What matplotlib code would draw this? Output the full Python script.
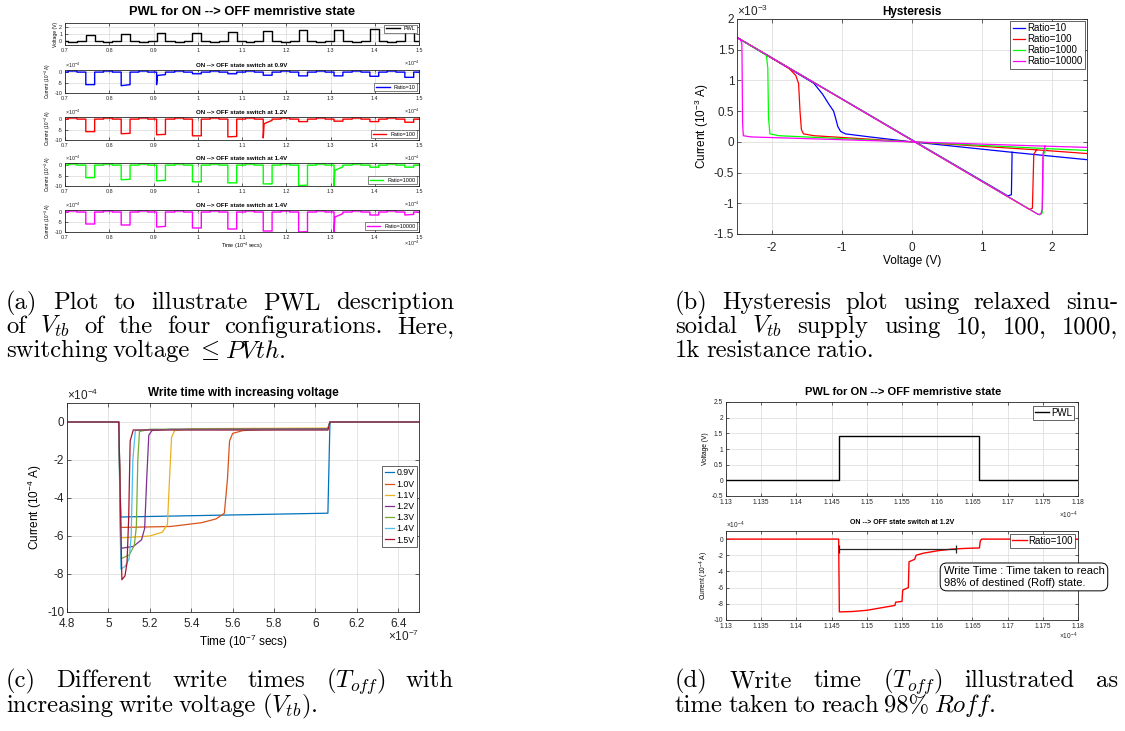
import numpy as np
import matplotlib
matplotlib.use("Agg")
import matplotlib.pyplot as plt

plt.rcParams['font.family'] = ['Liberation Sans', 'DejaVu Sans']
plt.rcParams['mathtext.fontset'] = 'custom'
plt.rcParams['mathtext.rm'] = 'Liberation Sans'
plt.rcParams['mathtext.it'] = 'Liberation Sans:italic'
plt.rcParams['mathtext.bf'] = 'Liberation Sans:bold'
plt.rcParams['axes.unicode_minus'] = False

W, H = 1125, 731
fig = plt.figure(figsize=(W / 100, H / 100), dpi=100)

AXC = '#262626'
GRIDC = '#d9d9d9'

# ---------------- data: panel (a) ----------------
pwl_pulse_starts = [0.747, 0.827, 0.907, 0.988, 1.068, 1.148, 1.228, 1.308, 1.389, 1.468]
pwl_pulse_volts = [0.9, 1.0, 1.1, 1.2, 1.3, 1.4, 1.5, 1.6, 1.7, 1.8]
pwl_read_volt = -0.08
pwl_read_current = 0.5
a_titles = ['ON --> OFF state switch at 0.9V', 'ON --> OFF state switch at 1.2V',
            'ON --> OFF state switch at 1.4V', 'ON --> OFF state switch at 1.4V']
a_labels = ['Ratio=10', 'Ratio=100', 'Ratio=1000', 'Ratio=10000']
a_colors = ['#0000ff', '#ff0000', '#00ff00', '#ff00ff']
a_i_start = [
    [-6.0, -6.5, -6.0, -0.8, -0.8, -1.5, -1.8, -1.8, -2.0, -2.5],
    [-6.0, -7.0, -7.5, -8.0, -8.5, -9.0, -1.2, -1.0, -1.2, -1.5],
    [-6.0, -7.0, -7.5, -8.0, -8.5, -9.0, -9.8, -10.0, -1.0, -1.0],
    [-6.0, -6.5, -7.5, -8.0, -8.5, -9.5, -10.0, -10.0, -1.5, -1.5],
]
a_i_end = [
    [-6.0, -6.0, -1.2, -0.8, -0.8, -1.5, -1.8, -1.8, -2.0, -2.5],
    [-6.0, -6.8, -7.3, -8.0, -8.3, -0.6, -1.2, -1.0, -1.2, -1.5],
    [-6.0, -6.8, -7.3, -8.0, -8.5, -9.0, -9.6, -0.8, -1.0, -1.0],
    [-6.0, -6.5, -7.2, -8.0, -8.5, -9.5, -9.8, -0.8, -1.5, -1.2],
]
a_switch_idx = [2, 5, 7, 7]
a_switch_knee = [-1.6, -2.2, -2.5, -2.5]
pulse_width = 0.02

# ---------------- data: panel (b) ----------------
hyst_labels = ['Ratio=10', 'Ratio=100', 'Ratio=1000', 'Ratio=10000']
hyst_colors = ['#0000ff', '#ff0000', '#00ff00', '#ff00ff']
hyst_v = [
    [2.5, 1.43, 0.0, -0.6, -0.95, -1.02, -1.06, -1.09, -1.12, -1.18, -1.28, -1.40, -1.47, -2.5, 1.37, 1.42, 1.43],
    [2.5, 1.78, 0.0, -1.4, -1.55, -1.58, -1.60, -1.62, -1.66, -1.76, -2.5, 1.68, 1.72, 1.74, 1.78],
    [2.5, 1.92, 0.0, -1.9, -2.03, -2.05, -2.06, -2.08, -2.5, 1.82, 1.86, 1.88, 1.92],
    [2.5, 1.90, 0.0, -2.3, -2.41, -2.42, -2.43, -2.45, -2.5, 1.80, 1.84, 1.86, 1.87, 1.90],
]
hyst_i = [
    [-0.29, -0.17, 0.0, 0.08, 0.13, 0.17, 0.25, 0.38, 0.50, 0.60, 0.78, 0.95, 1.00, 1.70, -0.88, -0.86, -0.17],
    [-0.19, -0.13, 0.0, 0.10, 0.13, 0.20, 0.50, 0.95, 1.08, 1.20, 1.70, -1.10, -1.08, -0.20, -0.13],
    [-0.14, -0.11, 0.0, 0.10, 0.13, 0.40, 1.20, 1.41, 1.70, -1.19, -1.16, -0.20, -0.11],
    [-0.09, -0.07, 0.0, 0.08, 0.10, 0.30, 1.60, 1.66, 1.70, -1.18, -1.175, -1.10, -0.20, -0.07],
]

# ---------------- data: panel (c) ----------------
wt_labels = ['0.9V', '1.0V', '1.1V', '1.2V', '1.3V', '1.4V', '1.5V']
wt_colors = ['#0072BD', '#D95319', '#EDB120', '#7E2F8E', '#77AC30', '#4DBEEE', '#A2142F']
wt_t = [
    [4.8, 5.05, 5.06, 6.06, 6.07, 6.5],
    [4.8, 5.05, 5.06, 5.3, 5.45, 5.52, 5.56, 5.575, 5.585, 5.6, 5.65, 5.75, 6.06, 6.07, 6.5],
    [4.8, 5.05, 5.06, 5.2, 5.26, 5.285, 5.295, 5.305, 5.32, 5.4, 6.06, 6.07, 6.5],
    [4.8, 5.05, 5.06, 5.12, 5.16, 5.175, 5.185, 5.195, 5.21, 5.3, 6.06, 6.07, 6.5],
    [4.8, 5.05, 5.06, 5.10, 5.125, 5.135, 5.142, 5.15, 5.2, 6.06, 6.07, 6.5],
    [4.8, 5.05, 5.06, 5.08, 5.10, 5.11, 5.118, 5.13, 5.2, 6.06, 6.07, 6.5],
    [4.8, 5.05, 5.065, 5.08, 5.09, 5.098, 5.105, 5.12, 5.2, 6.06, 6.07, 6.5],
]
wt_i = [
    [0, 0, -5.0, -4.8, 0, 0],
    [0, 0, -5.55, -5.5, -5.3, -5.1, -4.8, -3.0, -1.0, -0.6, -0.45, -0.4, -0.35, 0, 0],
    [0, 0, -6.1, -6.0, -5.8, -5.4, -3.0, -0.8, -0.45, -0.35, -0.32, 0, 0],
    [0, 0, -6.65, -6.55, -6.2, -5.6, -3.0, -0.7, -0.45, -0.38, -0.35, 0, 0],
    [0, 0, -7.2, -7.0, -6.5, -5.5, -2.0, -0.5, -0.38, -0.38, 0, 0],
    [0, 0, -7.75, -7.6, -7.2, -6.0, -2.0, -0.45, -0.4, -0.4, 0, 0],
    [0, 0, -8.3, -8.1, -7.4, -5.0, -1.0, -0.42, -0.42, -0.42, 0, 0],
]

# ---------------- data: panel (d) ----------------
d_pwl_t = [1.13, 1.146, 1.146, 1.166, 1.166, 1.18]
d_pwl_v = [0, 0, 1.4, 1.4, 0, 0]
d_cur_t = [1.13, 1.146, 1.1461, 1.148, 1.150, 1.152, 1.154, 1.1541, 1.155, 1.1551, 1.1559, 1.156,
           1.1568, 1.157, 1.158, 1.160, 1.162, 1.164, 1.166, 1.1661, 1.1663, 1.18]
d_cur_i = [0, 0, -9.0, -8.95, -8.8, -8.5, -8.2, -7.8, -7.7, -6.3, -6.0, -2.8,
           -2.5, -2.0, -1.75, -1.45, -1.25, -1.15, -1.1, -0.3, 0, 0]
write_time_start = 1.1461
write_time_end = 1.1627
write_time_level = -1.2


def ax_at(x0, y0, x1, y1):
    return fig.add_axes([x0 / W, 1 - y1 / H, (x1 - x0) / W, (y1 - y0) / H])


def style(ax, fs, tl=3, xpad=2):
    ax.tick_params(direction='in', labelsize=fs, colors=AXC, length=tl, width=0.5,
                   top=True, right=True, pad=2)
    ax.tick_params(axis='x', pad=xpad)
    ax.tick_params(labeltop=False, labelright=False)
    for s in ax.spines.values():
        s.set_color(AXC)
        s.set_linewidth(0.6)
    ax.grid(True, color=GRIDC, linewidth=0.5)
    ax.set_axisbelow(True)


def fmt(v):
    return ('%.3f' % v).rstrip('0').rstrip('.')


def offset_text(ax, x, y, exp, fs, ha='left', va='bottom'):
    ax.text(x, y, r'$\times10^{%d}$' % exp, transform=ax.transAxes, fontsize=fs,
            color=AXC, ha=ha, va=va)


# ================= panel (a) =================
fig.text(242 / W, 1 - 12 / H, 'PWL for ON --> OFF memristive state', ha='center', va='center',
         fontsize=9.3, fontweight='bold')

a_boxes = [(23, 45), (70, 93), (117, 140), (163, 186), (210, 232)]
xt_a = [0.7, 0.8, 0.9, 1.0, 1.1, 1.2, 1.3, 1.4, 1.5]
AFS = 3.9

tv, vv = [0.7], [0.0]
for s, h in zip(pwl_pulse_starts, pwl_pulse_volts):
    rs = s - 0.04
    tv += [rs, rs, rs + pulse_width, rs + pulse_width, s, s, s + pulse_width, s + pulse_width]
    vv += [0.0, pwl_read_volt, pwl_read_volt, 0.0, 0.0, h, h, 0.0]
tv += [1.5]
vv += [0.0]

ax = ax_at(65, a_boxes[0][0], 419, a_boxes[0][1])
ax.plot(tv, vv, color='black', lw=1.0, label='PWL')
ax.set_xlim(0.7, 1.5)
ax.set_ylim(-0.5, 2.5)
ax.set_yticks([0, 1, 2])
ax.set_xticks(xt_a)
ax.set_xticklabels([fmt(v) for v in xt_a])
style(ax, AFS, tl=2)
ax.set_ylabel('Voltage (V)', fontsize=3.6, labelpad=1)
ax.legend(loc='upper right', fontsize=AFS, handlelength=2.5, borderpad=0.3, fancybox=False,
          edgecolor=AXC, framealpha=1, borderaxespad=0.3).get_frame().set_linewidth(0.4)
offset_text(ax, 1.0, -0.6, -4, AFS, ha='right', va='top')

for k in range(4):
    tc, ic = [0.7], [0.0]
    for j, s in enumerate(pwl_pulse_starts):
        rs = s - 0.04
        tc += [rs, rs, rs + pulse_width, rs + pulse_width, s]
        ic += [0.0, pwl_read_current, pwl_read_current, 0.0, 0.0]
        if j == a_switch_idx[k]:
            tc += [s, s + 0.002, s + pulse_width, s + pulse_width]
            ic += [a_i_start[k][j], a_switch_knee[k], a_i_end[k][j], 0.0]
        else:
            tc += [s, s + pulse_width, s + pulse_width]
            ic += [a_i_start[k][j], a_i_end[k][j], 0.0]
    tc += [1.5]
    ic += [0.0]
    y0, y1 = a_boxes[k + 1]
    ax = ax_at(65, y0, 419, y1)
    ax.plot(tc, ic, color=a_colors[k], lw=1.0, label=a_labels[k])
    ax.set_xlim(0.7, 1.5)
    ax.set_ylim(-10, 1)
    ax.set_yticks([-10, -5, 0])
    ax.set_xticks(xt_a)
    ax.set_xticklabels([fmt(v) for v in xt_a])
    style(ax, AFS, tl=2)
    ax.set_ylabel(r'Current (10$^{-4}$ A)', fontsize=3.4, labelpad=1)
    ax.set_title(a_titles[k], fontsize=4.4, fontweight='bold', pad=2)
    ax.legend(loc='lower right', fontsize=AFS, handlelength=2.5, borderpad=0.3, fancybox=False,
              edgecolor=AXC, framealpha=1, borderaxespad=0.3).get_frame().set_linewidth(0.4)
    offset_text(ax, 0.0, 1.0, -4, AFS, ha='left', va='bottom')
    if k < 3:
        offset_text(ax, 1.0, -0.6, -4, AFS, ha='right', va='top')
    else:
        offset_text(ax, 1.0, -0.3, -4, AFS, ha='right', va='top')
        ax.set_xlabel(r'Time (10$^{-4}$ secs)', fontsize=AFS, labelpad=1)

# ================= panel (b) =================
ax = ax_at(737, 19, 1087, 234)
for v, i, c, l in zip(hyst_v, hyst_i, hyst_colors, hyst_labels):
    ax.plot(v, i, color=c, lw=0.9, label=l)
ax.set_xlim(-2.5, 2.5)
ax.set_ylim(-1.5, 2)
ax.set_xticks([-2, -1, 0, 1, 2])
yt_b = [-1.5, -1, -0.5, 0, 0.5, 1, 1.5, 2]
ax.set_yticks(yt_b)
ax.set_yticklabels([fmt(v) for v in yt_b])
style(ax, 8.5, tl=3, xpad=5.5)
ax.set_title('Hysteresis', fontsize=8.5, fontweight='bold', pad=3)
ax.set_xlabel('Voltage (V)', fontsize=8.5, labelpad=1)
ax.set_ylabel(r'Current (10$^{-3}$ A)', fontsize=8.5, labelpad=2)
lg = ax.legend(loc='upper right', fontsize=7.0, handlelength=1.3, handletextpad=0.2,
               borderpad=0.25, labelspacing=0.1, fancybox=False, edgecolor=AXC, framealpha=1,
               borderaxespad=0.2)
lg.get_frame().set_linewidth(0.5)
offset_text(ax, 0.0, 1.0, -3, 8.5, ha='left', va='bottom')

# ================= panel (c) =================
ax = ax_at(67, 403, 419, 612)
for t, i, c, l in zip(wt_t, wt_i, wt_colors, wt_labels):
    ax.plot(t, i, color=c, lw=0.9, label=l)
ax.set_xlim(4.8, 6.5)
ax.set_ylim(-10, 1)
xt_c = [4.8, 5.0, 5.2, 5.4, 5.6, 5.8, 6.0, 6.2, 6.4]
ax.set_xticks(xt_c)
ax.set_xticklabels([fmt(v) for v in xt_c])
ax.set_yticks([-10, -8, -6, -4, -2, 0])
style(ax, 8.5, tl=3, xpad=4)
ax.set_title('Write time with increasing voltage', fontsize=8.5, fontweight='bold', pad=5)
ax.set_xlabel(r'Time (10$^{-7}$ secs)', fontsize=8.5, labelpad=2)
ax.set_ylabel(r'Current (10$^{-4}$ A)', fontsize=8.5, labelpad=2)
lg = ax.legend(loc='center right', fontsize=6.3, handlelength=1.1, handletextpad=0.25,
               borderpad=0.25, labelspacing=0.25, fancybox=False, edgecolor=AXC, framealpha=1,
               bbox_to_anchor=(0.994, 0.505), borderaxespad=0.0)
lg.get_frame().set_linewidth(0.5)
offset_text(ax, 0.0, 1.0, -4, 8.5, ha='left', va='bottom')
offset_text(ax, 1.0, -0.08, -7, 8.5, ha='right', va='top')

# ================= panel (d) =================
fig.text(903 / W, 1 - 392 / H, 'PWL for ON --> OFF memristive state', ha='center', va='center',
         fontsize=8.0, fontweight='bold')
xt_d = [1.13, 1.135, 1.14, 1.145, 1.15, 1.155, 1.16, 1.165, 1.17, 1.175, 1.18]
ax = ax_at(726, 402, 1078, 496)
ax.plot(d_pwl_t, d_pwl_v, color='black', lw=1.0, label='PWL')
ax.set_xlim(1.13, 1.18)
ax.set_ylim(-0.5, 2.5)
yt_d = [-0.5, 0, 0.5, 1, 1.5, 2, 2.5]
ax.set_yticks(yt_d)
ax.set_yticklabels([fmt(v) for v in yt_d])
ax.set_xticks(xt_d)
ax.set_xticklabels([fmt(v) for v in xt_d])
style(ax, 4.8, tl=2.5)
ax.set_ylabel('Voltage (V)', fontsize=4.8, labelpad=2)
lg = ax.legend(loc='upper right', fontsize=7, handlelength=1.5, handletextpad=0.2,
               borderpad=0.2, fancybox=False, edgecolor=AXC, framealpha=1, borderaxespad=0.4)
lg.get_frame().set_linewidth(0.5)
offset_text(ax, 1.0, -0.15, -4, 4.8, ha='right', va='top')

ax = ax_at(726, 531, 1078, 620)
ax.plot(d_cur_t, d_cur_i, color='#ff0000', lw=1.0, label='Ratio=100')
ax.set_xlim(1.13, 1.18)
ax.set_ylim(-10, 1)
ax.set_yticks([-10, -8, -6, -4, -2, 0])
ax.set_xticks(xt_d)
ax.set_xticklabels([fmt(v) for v in xt_d])
style(ax, 4.8, tl=2.5)
ax.set_ylabel(r'Current (10$^{-4}$ A)', fontsize=4.8, labelpad=2)
ax.set_title('ON --> OFF state switch at 1.2V', fontsize=5.0, fontweight='bold', pad=5)
lg = ax.legend(loc='upper right', fontsize=7, handlelength=1.5, handletextpad=0.2,
               borderpad=0.2, fancybox=False, edgecolor=AXC, framealpha=1, borderaxespad=0.3)
lg.get_frame().set_linewidth(0.5)
ax.errorbar([(write_time_start + write_time_end) / 2], [write_time_level],
            xerr=[(write_time_end - write_time_start) / 2], color='#262626', lw=0.9,
            capsize=3, capthick=0.9)
ax.text(0.618, 0.365, 'Write Time : Time taken to reach\n98% of destined (Roff) state.',
        transform=ax.transAxes, fontsize=8.0, ha='left', va='bottom', linespacing=1.15,
        clip_on=False,
        bbox=dict(boxstyle='round,pad=0.3,rounding_size=0.6', fc='white', ec='black', lw=0.7))
offset_text(ax, 0.0, 1.0, -4, 4.8, ha='left', va='bottom')
offset_text(ax, 1.0, -0.12, -4, 4.8, ha='right', va='top')

# ================= captions =================
renderer = fig.canvas.get_renderer()
CAP_FAMILY = ['cmr10', 'DejaVu Serif']


def cap_text(x, y, s, fs):
    return fig.text(x / W, 1 - y / H, s, fontsize=fs, family=CAP_FAMILY,
                    math_fontfamily='cm', ha='left', va='baseline')


def words_width(words, fs):
    objs = [cap_text(0, 0, w, fs) for w in words]
    widths = [o.get_window_extent(renderer).width for o in objs]
    for o in objs:
        o.remove()
    return widths


calib_words = ['increasing', 'Different']
calib_target = 203.0
CAP_FS = 10 * calib_target / sum(words_width(calib_words, 10))
SPACE = 0.22 * CAP_FS * 100 / 72


def place_line(x0, x1, y, line, justify):
    words = line.split(' ')
    widths = words_width(words, CAP_FS)
    if justify:
        gap = (x1 - x0 - sum(widths)) / (len(words) - 1)
    else:
        gap = SPACE
    x = x0
    for w, wd in zip(words, widths):
        cap_text(x, y, w, CAP_FS)
        x += wd + gap


captions = [
    (6, 454, [309, 333, 357], ['(a) Plot to illustrate PWL description',
                               r'of $V_{tb}$ of the four configurations. Here,',
                               r'switching voltage $\leq$ $PVth$.']),
    (675, 1118, [309, 333, 357], ['(b) Hysteresis plot using relaxed sinu-',
                                  r'soidal $V_{tb}$ supply using 10, 100, 1000,',
                                  '1k resistance ratio.']),
    (6, 454, [687, 712], [r'(c) Different write times ($T_{off}$) with',
                          r'increasing write voltage ($V_{tb}$).']),
    (675, 1118, [687, 712], [r'(d) Write time ($T_{off}$) illustrated as',
                             r'time taken to reach 98% $Roff$.']),
]
for x0, x1, ys, lines in captions:
    for n, (y, line) in enumerate(zip(ys, lines)):
        place_line(x0, x1, y, line, n < len(lines) - 1)

fig.savefig('out.png', dpi=100)
